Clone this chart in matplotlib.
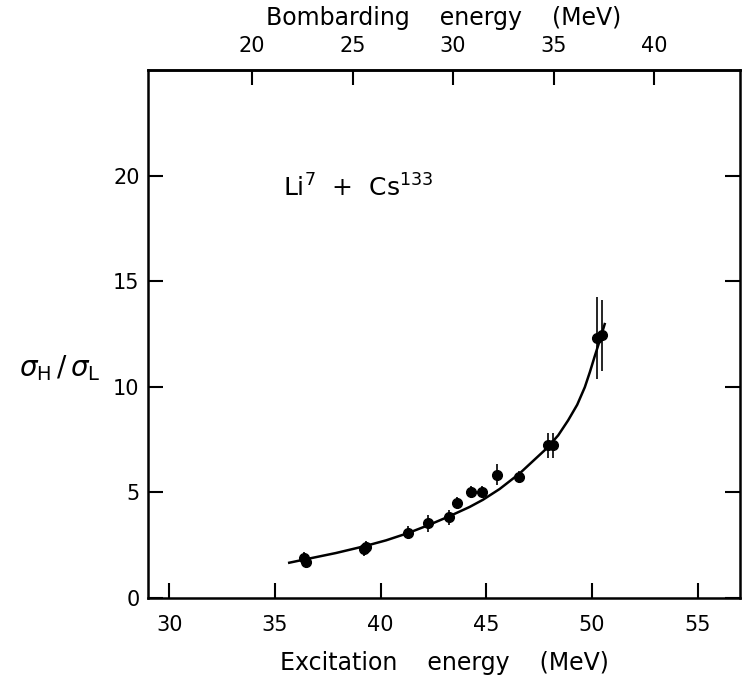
import matplotlib
matplotlib.use("Agg")
import matplotlib.pyplot as plt

# Measured ratio sigma_H / sigma_L versus excitation energy (MeV)
exc_energy = [36.40, 36.45, 39.20, 39.30, 41.29, 42.24, 43.23, 43.63,
              44.29, 44.81, 45.52, 46.53, 47.92, 48.16, 50.25, 50.48]
ratio = [1.90, 1.72, 2.30, 2.42, 3.09, 3.53, 3.82, 4.52,
         5.02, 5.02, 5.84, 5.73, 7.23, 7.23, 12.30, 12.44]
ratio_err = [0.30, 0.30, 0.30, 0.30, 0.30, 0.40, 0.35, 0.25,
             0.30, 0.30, 0.50, 0.30, 0.60, 0.60, 1.93, 1.67]

# Smooth curve drawn through the measurements
curve_x = [35.68, 36.39, 37.89, 39.23, 40.26, 41.29, 42.24, 43.23, 44.21,
           44.84, 45.63, 46.58, 47.84, 48.40, 48.87, 49.30, 49.66, 49.90,
           50.13, 50.37, 50.60]
curve_y = [1.67, 1.82, 2.13, 2.45, 2.73, 3.07, 3.44, 3.86, 4.31,
           4.65, 5.16, 5.90, 7.07, 7.70, 8.41, 9.15, 9.98, 10.70,
           11.45, 12.20, 12.97]

x_ticks = [30, 35, 40, 45, 50, 55]
y_ticks = [0, 5, 10, 15, 20]
top_ticks = [20, 25, 30, 35, 40]

# Bombarding (lab) energy <-> excitation energy for Li7 + Cs133
MASS_RATIO = 133.0 / 140.0
Q_OFFSET = 14.93


def exc_to_lab(e):
    return (e - Q_OFFSET) / MASS_RATIO


def lab_to_exc(e):
    return e * MASS_RATIO + Q_OFFSET


plt.rcParams["font.family"] = ["DejaVu Sans"]
plt.rcParams["mathtext.fontset"] = "dejavusans"

W, H = 744, 681
fig = plt.figure(figsize=(W / 100, H / 100), dpi=100)
ax = fig.add_axes([148 / W, 1 - 598 / H, (740 - 148) / W, (598 - 70) / H])

ax.plot(curve_x, curve_y, color="black", lw=1.8, zorder=2,
        solid_joinstyle="round")
ax.errorbar(exc_energy, ratio, yerr=ratio_err, fmt="o", color="black",
            ms=7, elinewidth=1.2, capsize=0, zorder=3)

ax.set_xlim(29, 57)
ax.set_ylim(0, 25)
ax.set_xticks(x_ticks)
ax.set_yticks(y_ticks)

for s in ax.spines.values():
    s.set_linewidth(1.8)

ax.tick_params(axis="both", direction="in", length=11, width=1.5,
               labelsize=15, right=True, labelright=False)
ax.tick_params(axis="x", pad=12)
ax.tick_params(axis="y", pad=6)

ax.set_xlabel("Excitation    energy    (MeV)", fontsize=17, labelpad=12)

sec = ax.secondary_xaxis("top", functions=(exc_to_lab, lab_to_exc))
sec.set_xticks(top_ticks)
sec.tick_params(direction="in", length=11, width=1.5, labelsize=15, pad=10)
sec.spines["top"].set_linewidth(1.8)
sec.set_xlabel("Bombarding    energy    (MeV)", fontsize=17, labelpad=8)

fig.text(60 / W, 1 - 368 / H, r"$\sigma_{\rm H}\,/\,\sigma_{\rm L}$",
         fontsize=20, ha="center", va="center")

ax.text(35.4, 19.0, r"Li$^{7}$  +  Cs$^{133}$", fontsize=18,
        ha="left", va="baseline")

fig.savefig("out.png", dpi=100)
